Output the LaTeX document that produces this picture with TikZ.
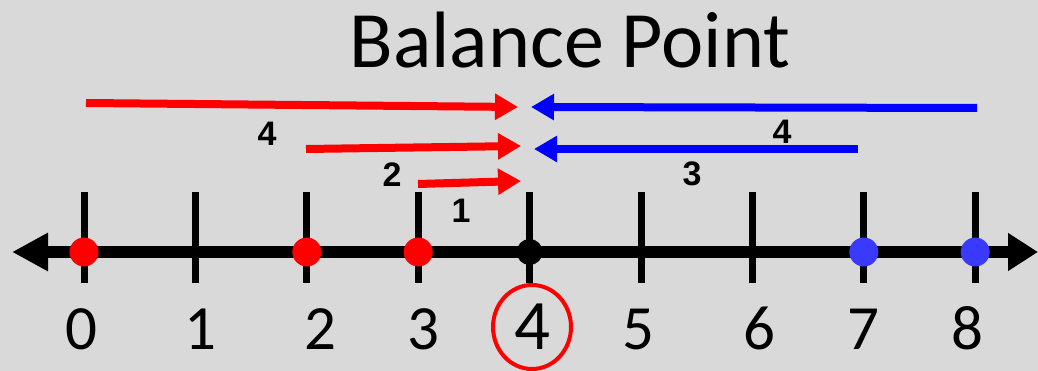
\documentclass[tikz,border=0pt]{standalone}
\usepackage{fontspec}
\setmainfont{Carlito}
\newfontfamily\labelfont{Liberation Sans}
\usetikzlibrary{arrows.meta,positioning,calc}
\definecolor{Backdrop}{HTML}{D9D9D9}
\definecolor{DotBlue}{HTML}{3A3AFF}
\tikzset{
  pull/.style={line width=8pt,-{Triangle[length=23pt,width=25pt]}},
  lbl/.style={font=\labelfont\bfseries\fontsize{34}{34}\selectfont},
  num/.style={anchor=base,font=\fontsize{63}{63}\selectfont},
  dot/.style={circle,inner sep=0pt,minimum size=29pt}
}
\begin{document}
\begin{tikzpicture}[x=1pt,y=-1pt]
  \fill[Backdrop] (0,0) rectangle (1038,371);
  \useasboundingbox (0,0) rectangle (1038,371);
  \node[anchor=base,font=\fontsize{80}{96}\selectfont] (title) at (570,68) {Balance Point};
  % number line
  \coordinate (lend) at (12,252);
  \coordinate (rend) at (1038,252);
  \draw[line width=12pt,{Triangle[length=36pt,width=36pt]}-{Triangle[length=30pt,width=36pt]}] (lend) -- (rend);
  \foreach \n in {0,...,8} {
    \coordinate (t\n) at (84+111.4*\n,252);
    \draw[line width=7pt] ($(t\n)+(0,-60)$) -- ($(t\n)+(0,31)$);
  }
  \foreach \n/\x in {0/81,1/200,2/320,3/423,5/638,6/759,7/863,8/967}
    \node[num] (n\n) at (\x,349) {\n};
  \node[num,font=\fontsize{71}{71}\selectfont] (n4) at (532,349) {4};
  \draw[red,line width=4pt] (532,327) ellipse [x radius=39,y radius=42];
  % dots
  \foreach \n in {0,2,3} \node[dot,fill=red] (d\n) at (t\n) {};
  \node[dot,fill=black,minimum size=26pt] (d4) at (t4) {};
  \foreach \n in {7,8} \node[dot,fill=DotBlue] (d\n) at (t\n) {};
  % pulls
  \coordinate (ra) at (86,103);   \coordinate (rae) at (518,107);
  \coordinate (rb) at (306,149);  \coordinate (rbe) at (521,146);
  \coordinate (rc) at (418,184);  \coordinate (rce) at (521,181);
  \coordinate (ba) at (977,108);  \coordinate (bae) at (531,107);
  \coordinate (bb) at (858,149);  \coordinate (bbe) at (534,149);
  \draw[pull,red] (ra) -- (rae);
  \draw[pull,red] (rb) -- (rbe);
  \draw[pull,red] (rc) -- (rce);
  \draw[pull,blue] (ba) -- (bae);
  \draw[pull,blue] (bb) -- (bbe);
  \node[lbl] (la) at (267,134) {4};
  \node[lbl] (lb) at (392,175) {2};
  \node[lbl] (lc) at (461,211) {1};
  \node[lbl] (ld) at (782,132) {4};
  \node[lbl] (le) at (692,174) {3};
\end{tikzpicture}
\end{document}
